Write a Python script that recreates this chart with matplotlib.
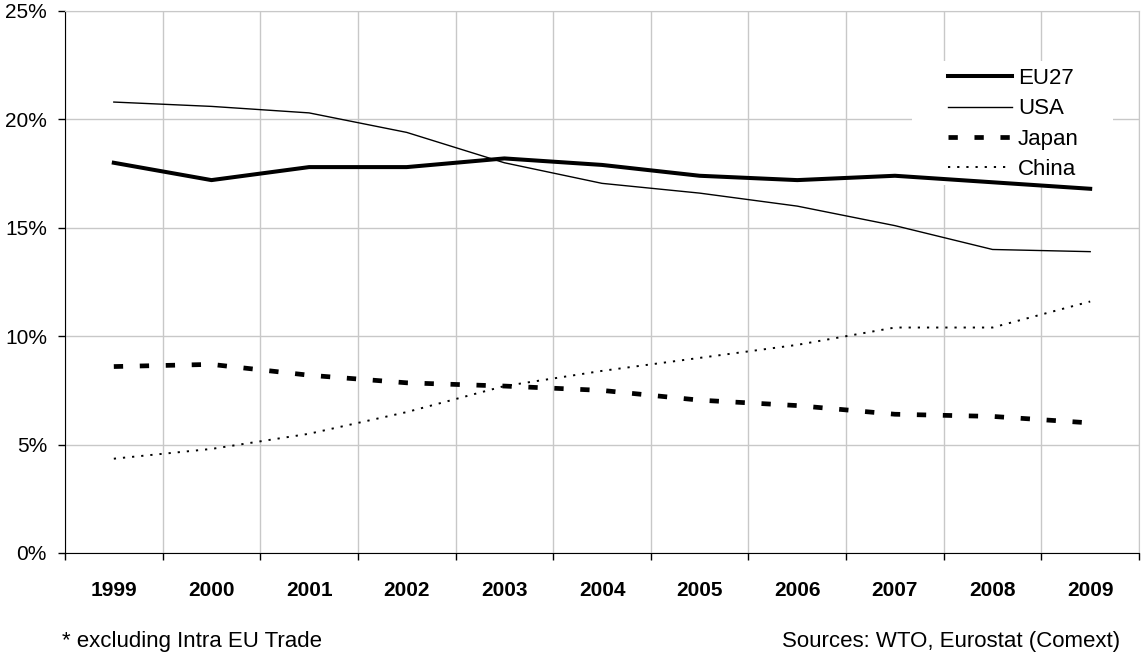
import matplotlib
matplotlib.use("Agg")
import matplotlib.pyplot as plt
from matplotlib.ticker import FuncFormatter, FixedLocator
from matplotlib.patches import Rectangle

plt.rcParams['font.family'] = ['Liberation Sans', 'DejaVu Sans']
plt.rcParams['lines.scale_dashes'] = False

# dati (quota % sul commercio mondiale)
years = ['1999', '2000', '2001', '2002', '2003', '2004', '2005', '2006', '2007', '2008', '2009']
eu27 = [18.0, 17.2, 17.8, 17.8, 18.2, 17.9, 17.4, 17.2, 17.4, 17.1, 16.8]
usa = [20.8, 20.6, 20.3, 19.4, 18.0, 17.05, 16.6, 16.0, 15.1, 14.0, 13.9]
japan = [8.6, 8.7, 8.2, 7.85, 7.7, 7.5, 7.05, 6.8, 6.4, 6.3, 6.0]
china = [4.35, 4.8, 5.5, 6.5, 7.7, 8.4, 9.0, 9.6, 10.4, 10.4, 11.6]

W, H = 1142, 656
fig = plt.figure(figsize=(W / 100, H / 100), dpi=100)
ax = fig.add_axes([65 / W, 1 - 553 / H, (1139 - 65) / W, (553 - 11) / H])

x = list(range(len(years)))
ax.plot(x, eu27, color='black', lw=2.9, label='EU27', zorder=2)
ax.plot(x, usa, color='black', lw=1.0, label='USA', zorder=2)
ax.plot(x, japan, color='black', lw=3.4, dashes=(6.7, 12.0), dash_capstyle='butt', label='Japan', zorder=2)
ax.plot(x, china, color='black', lw=1.4, dashes=(1.6, 5.0), dash_capstyle='butt', label='China', zorder=2)

ax.set_xlim(-0.5, len(years) - 0.5)
ax.set_ylim(0, 25)

# assi
ax.set_xticks(x)
ax.set_xticklabels(years, fontsize=15, fontweight='bold')
ax.xaxis.set_minor_locator(FixedLocator([i - 0.5 for i in range(len(years) + 1)]))
ax.tick_params(axis='x', which='major', length=0, pad=20)
ax.tick_params(axis='x', which='minor', length=5, width=1, color='black')
ax.set_yticks([0, 5, 10, 15, 20, 25])
ax.yaxis.set_major_formatter(FuncFormatter(lambda v, p: '%d%%' % v))
ax.tick_params(axis='y', length=5, width=1, labelsize=15, pad=8)

ax.grid(True, axis='y', which='major', color='#c8c8c8', lw=1)
ax.grid(True, axis='x', which='minor', color='#c8c8c8', lw=1)
ax.set_axisbelow(True)

ax.spines['left'].set_color('black')
ax.spines['bottom'].set_color('black')
ax.spines['top'].set_color('#c8c8c8')
ax.spines['right'].set_color('#c8c8c8')

# sfondo bianco della legenda (sotto le linee)
ax.add_patch(Rectangle((912 / W, 1 - 185 / H), (1113 - 912) / W, (185 - 61) / H,
                       transform=fig.transFigure, facecolor='white', edgecolor='none', zorder=1))

leg = ax.legend(loc='upper left', bbox_to_anchor=(948 / W, 1 - 68 / H),
                bbox_transform=fig.transFigure, fontsize=16, frameon=False,
                handlelength=2.9, handletextpad=0.25, labelspacing=0.42,
                borderpad=0, borderaxespad=0)
leg.set_zorder(3)

fig.text(62 / W, 1 - 641 / H, '* excluding Intra EU Trade', fontsize=16, va='center', ha='left')
fig.text(1120 / W, 1 - 641 / H, 'Sources: WTO, Eurostat (Comext)', fontsize=16, va='center', ha='right')

fig.savefig('out.png', dpi=100)
